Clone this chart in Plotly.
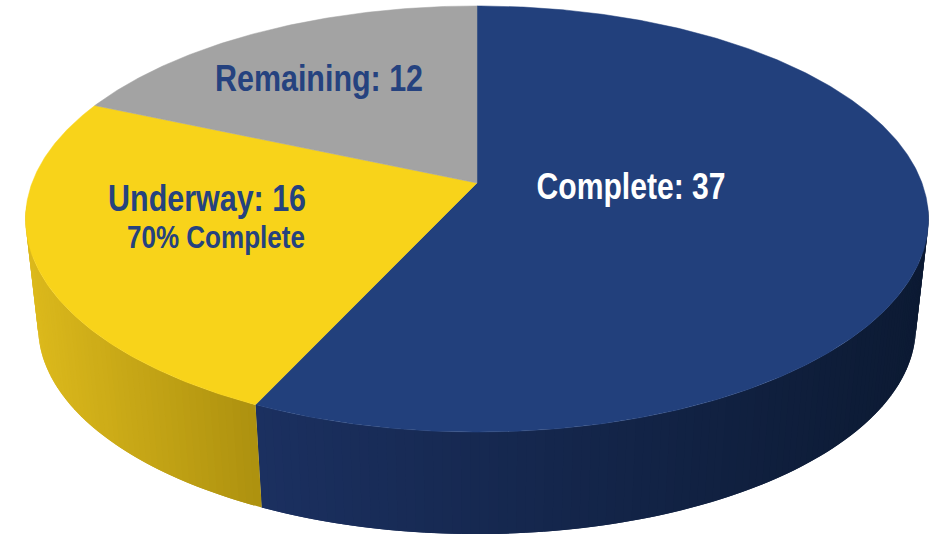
import json
import math
import plotly.graph_objects as go

# Data
categories = ["Complete", "Underway", "Remaining"]
values = [37, 16, 12]
top_colors = ["#22407c", "#f8d31a", "#a3a3a3"]
wall_left = ["#1b3060", "#dcb91c", "#a3a3a3"]
wall_right = ["#0c1a33", "#ad910f", "#808080"]
labels = ["Complete: 37", "Underway: 16", "Remaining: 12"]
sublabel = "70% Complete"
label_colors = ["#ffffff", "#25427f", "#25427f"]

# Projection of the disc (camera in perspective)
CX, CY, R, B, K = 477.0, 183.0, 445.0, 207.0, 0.169
CY2, SCALE = 292.0, 0.972


def project(theta_deg, bottom=False):
    t = math.radians(theta_deg)
    u, v = math.sin(t), -math.cos(t)
    d = 1 - K * v
    s = SCALE if bottom else 1.0
    return CX + s * R * u / d, (CY2 if bottom else CY) + s * B * v / d


def mix(c1, c2, f):
    f = max(0.0, min(1.0, f))
    a = [int(c1[i:i + 2], 16) for i in (1, 3, 5)]
    b = [int(c2[i:i + 2], 16) for i in (1, 3, 5)]
    return "rgb(%d,%d,%d)" % tuple(round(p + (q - p) * f) for p, q in zip(a, b))


total = sum(values)
angles = [0.0]
for val in values:
    angles.append(angles[-1] + val / total * 360)

fig = go.Figure()

# Side walls: only the front part of the rim is visible.
# Each strip overlaps the next so no seams show.
VIS_START, VIS_END = 96.0, 264.0
for i, name in enumerate(categories):
    a0, a1 = max(angles[i], VIS_START), min(angles[i + 1], VIS_END)
    if a1 <= a0:
        continue
    n = max(2, int((a1 - a0) / 1.0))
    xl = project(a1)[0]
    xr = project(a0)[0]
    for j in range(n):
        t0 = a0 + (a1 - a0) * j / n
        t1 = a0 + (a1 - a0) * (j + 1) / n
        t_end = min(a1, t1 + (a1 - a0) / n)
        p = [project(t0), project(t_end), project(t_end, True), project(t0, True), project(t0)]
        mx = (project(t0)[0] + project(t1)[0]) / 2
        col = mix(wall_left[i], wall_right[i], (mx - xl) / (xr - xl))
        fig.add_trace(go.Scatter(
            x=[q[0] for q in p], y=[q[1] for q in p], mode="lines", fill="toself",
            fillcolor=col, line=dict(width=0), hoverinfo="skip", showlegend=False))

# Top faces
for i, name in enumerate(categories):
    a0, a1 = angles[i], angles[i + 1]
    n = max(2, int((a1 - a0) * 2))
    pts = [(CX, CY)] + [project(a0 + (a1 - a0) * j / n) for j in range(n + 1)] + [(CX, CY)]
    fig.add_trace(go.Scatter(
        x=[q[0] for q in pts], y=[q[1] for q in pts], mode="lines", fill="toself", name=name,
        fillcolor=top_colors[i], line=dict(color=top_colors[i], width=0.5),
        hoverinfo="name", showlegend=False))

FONT = "Liberation Sans, Arial, sans-serif"
anns = [
    (630.5, 186, labels[0], label_colors[0], 36, 189),
    (207, 198, labels[1], label_colors[1], 36, 198),
    (319, 78, labels[2], label_colors[2], 36, 208),
    (216, 237, sublabel, label_colors[1], 31, 178),
]
for x, y, text, color, size, _ in anns:
    fig.add_annotation(x=x, y=y, text="<b>%s</b>" % text, showarrow=False,
                       xanchor="center", yanchor="middle",
                       font=dict(family=FONT, size=size, color=color))

fig.update_layout(
    width=936, height=536, margin=dict(l=0, r=0, t=0, b=0),
    paper_bgcolor="white", plot_bgcolor="white", showlegend=False,
    xaxis=dict(range=[0, 936], visible=False, fixedrange=True),
    yaxis=dict(range=[536, 0], visible=False, fixedrange=True),
)
widths = json.dumps([a[5] for a in anns])
post = """
document.body.style.margin='0';document.body.style.overflow='hidden';
var w=%s;
document.querySelectorAll('.annotation-text').forEach(function(t,i){
  t.setAttribute('textLength',w[i]);t.setAttribute('lengthAdjust','spacingAndGlyphs');
});
""" % widths
fig.write_html("out.html", config={"displayModeBar": False}, post_script=post)
